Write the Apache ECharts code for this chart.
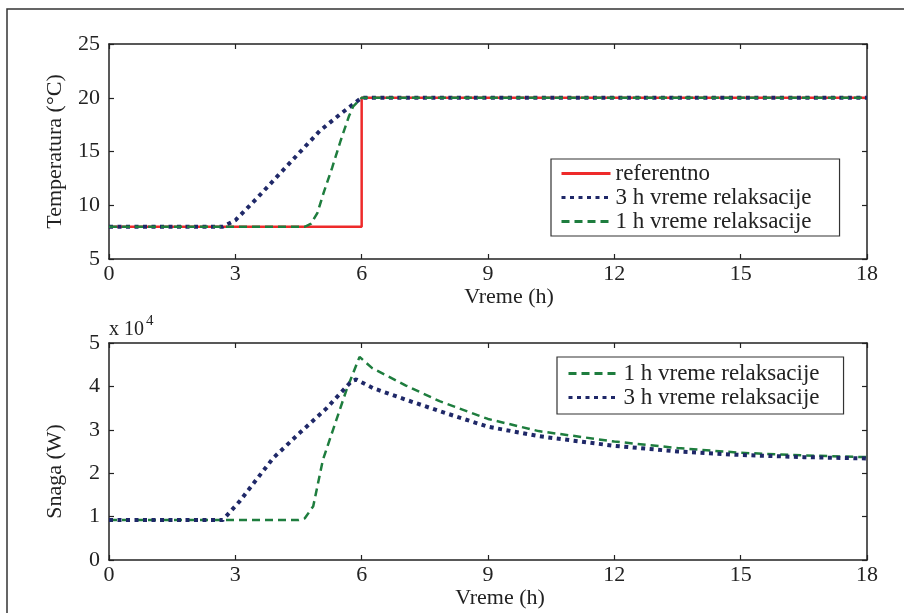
<!DOCTYPE html>
<html>
<head>
<meta charset="utf-8">
<script src="https://cdn.jsdelivr.net/npm/echarts@6/dist/echarts.min.js"></script>
<style>html,body{margin:0;padding:0;background:#fff}#chart{width:904px;height:613px}</style>
</head>
<body>
<div id="chart"></div>
<script>
// gornji grafik - temperatura
var refT = [0, 6, 6, 18];
var refV = [8, 8, 20, 20];
var t3T = [0, 2.7, 3, 3.5, 4, 4.5, 5, 5.5, 6, 18];
var t3V = [8, 8, 8.6, 10.6, 12.7, 14.8, 16.9, 18.5, 20, 20];
var t1T = [0, 4.65, 4.8, 4.95, 5.1, 5.3, 5.5, 5.7, 5.8, 6, 18];
var t1V = [8, 8, 8.3, 9.3, 11.2, 13.5, 16, 18.3, 19.2, 20, 20];

// donji grafik - snaga (W)
var p1T = [0, 4.5, 4.65, 4.85, 5.08, 5.32, 5.64, 5.95, 6.25, 7.05, 7.85, 9, 10.2, 12, 13.5, 15, 16.5, 18];
var p1V = [9200, 9200, 9600, 12400, 23100, 30000, 39200, 46800, 44200, 40200, 36600, 32500, 29700, 27300, 25800, 24700, 24100, 23700];
var p3T = [0, 2.7, 3.1, 3.9, 4.53, 5.17, 5.76, 5.87, 6.27, 7.06, 7.85, 9, 10.23, 12, 13.5, 15, 16.5, 18];
var p3V = [9200, 9200, 13500, 23500, 29300, 35000, 41200, 41600, 39600, 36900, 34300, 30700, 28500, 26300, 25000, 24200, 23700, 23400];

var xTicks = [0, 3, 6, 9, 12, 15, 18];

var RED = '#ee2a2a', NAVY = '#1f2868', GREEN = '#1e7d3e';
var FONT = 'Liberation Serif';

function zip(a, b) { return a.map(function (v, i) { return [v, b[i]]; }); }

function xAx(grid, pos, labels, name, pad) {
    return {
        type: 'value', gridIndex: grid, position: pos, min: xTicks[0], max: xTicks[xTicks.length - 1], interval: 3,
        axisLine: { show: true, onZero: false, lineStyle: { color: '#222', width: 1.5 } },
        axisTick: { show: true, inside: true, length: 5, lineStyle: { color: '#222', width: 1.2 } },
        axisLabel: { show: labels, margin: 4, color: '#222', fontFamily: FONT, fontSize: 22 },
        splitLine: { show: false },
        name: name, nameLocation: 'middle', nameGap: labels ? 22 : 0,
        nameTextStyle: { color: '#222', fontFamily: FONT, fontSize: 22, verticalAlign: 'top', padding: pad || 0 }
    };
}
function yAx(grid, pos, labels, min, max, interval, fmt, name, gap, pad) {
    return {
        type: 'value', gridIndex: grid, position: pos, min: min, max: max, interval: interval,
        axisLine: { show: true, onZero: false, lineStyle: { color: '#222', width: 1.5 } },
        axisTick: { show: true, inside: true, length: 5, lineStyle: { color: '#222', width: 1.2 } },
        axisLabel: { show: labels, margin: 9, color: '#222', fontFamily: FONT, fontSize: 22, formatter: fmt },
        splitLine: { show: false },
        name: name, nameLocation: 'middle', nameGap: gap || 0,
        nameTextStyle: { color: '#222', fontFamily: FONT, fontSize: 22, padding: pad || 0 }
    };
}

var legendBase = {
    orient: 'vertical', itemGap: 1, itemHeight: 10,
    borderColor: '#333', borderWidth: 1.2, backgroundColor: '#fff',
    itemStyle: { opacity: 0 },
    lineStyle: { width: 3 },
    textStyle: { color: '#222', fontFamily: FONT, fontSize: 23, lineHeight: 22 }
};

var chart = echarts.init(document.getElementById('chart'));
chart.setOption({
    animation: false,
    backgroundColor: '#fff',
    grid: [
        { left: 109, top: 44, right: 37, height: 215 },
        { left: 109, top: 343, right: 37, height: 217 }
    ],
    xAxis: [
        xAx(0, 'bottom', true, 'Vreme (h)', [0, 0, 0, 42]),
        xAx(0, 'top', false, ''),
        xAx(1, 'bottom', true, 'Vreme (h)', [0, 0, 0, 24]),
        xAx(1, 'top', false, '')
    ],
    yAxis: [
        yAx(0, 'left', true, 5, 25, 5, null, 'Temperatura (°C)', 43),
        yAx(0, 'right', false, 5, 25, 5),
        yAx(1, 'left', true, 0, 50000, 10000, function (v) { return v / 10000; }, 'Snaga (W)', 43, [0, 40, 0, 0]),
        yAx(1, 'right', false, 0, 50000, 10000)
    ],
    legend: [
        Object.assign({}, legendBase, {
            left: 551, top: 159, itemWidth: 49,
            padding: [3, 28, 3, 9],
            data: ['referentno', '3 h vreme relaksacije', '1 h vreme relaksacije']
        }),
        Object.assign({}, legendBase, {
            left: 557, top: 357, itemWidth: 50,
            padding: [5, 24, 5, 10],
            data: ['1 h vreme relaksacije', '3 h vreme relaksacije']
        })
    ],
    graphic: [
        { type: 'rect', shape: { x: 7, y: 9, width: 1000, height: 1000 }, style: { fill: 'none', stroke: '#333', lineWidth: 1.5 }, silent: true },
        { type: 'text', left: 109, top: 320, style: { text: 'x 10', font: '20px "Liberation Serif"', fill: '#222' } },
        { type: 'text', left: 146, top: 314, style: { text: '4', font: '15px "Liberation Serif"', fill: '#222' } }
    ],
    series: [
        {
            name: 'referentno', type: 'line', xAxisIndex: 0, yAxisIndex: 0, symbol: 'none', z: 3,
            data: zip(refT, refV), color: RED, lineStyle: { color: RED, width: 2.5 }
        },
        {
            name: '3 h vreme relaksacije', type: 'line', xAxisIndex: 0, yAxisIndex: 0, symbol: 'none', z: 4,
            data: zip(t3T, t3V), color: NAVY, lineStyle: { color: NAVY, width: 4, type: [4, 4.5], cap: 'butt' }
        },
        {
            name: '1 h vreme relaksacije', type: 'line', xAxisIndex: 0, yAxisIndex: 0, symbol: 'none', z: 5,
            data: zip(t1T, t1V), color: GREEN, lineStyle: { color: GREEN, width: 2.5, type: [8, 5] }
        },
        {
            name: '1 h vreme relaksacije', type: 'line', xAxisIndex: 2, yAxisIndex: 2, symbol: 'none', z: 4,
            data: zip(p1T, p1V), color: GREEN, lineStyle: { color: GREEN, width: 2.5, type: [8, 5] }
        },
        {
            name: '3 h vreme relaksacije', type: 'line', xAxisIndex: 2, yAxisIndex: 2, symbol: 'none', z: 5,
            data: zip(p3T, p3V), color: NAVY, lineStyle: { color: NAVY, width: 4, type: [4, 4.5], cap: 'butt' }
        }
    ]
});
</script>
</body>
</html>
